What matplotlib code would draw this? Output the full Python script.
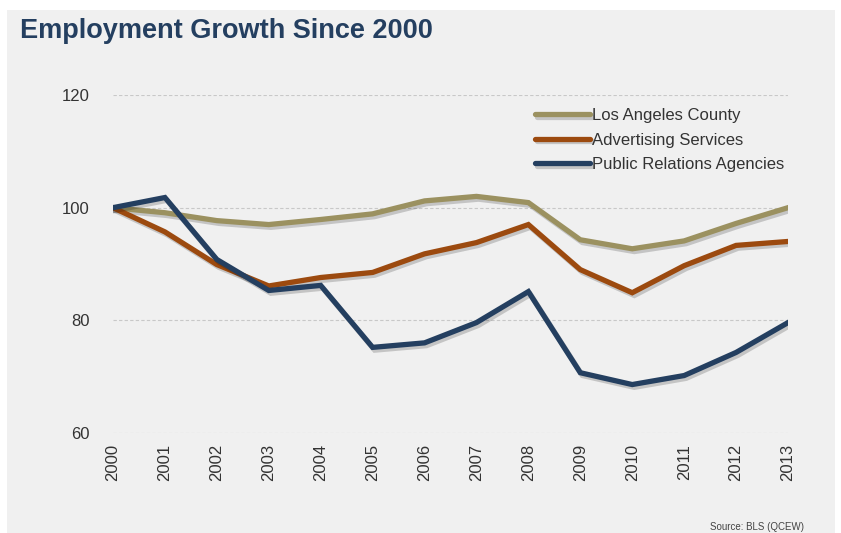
import matplotlib
matplotlib.use("Agg")
import matplotlib.pyplot as plt
import matplotlib.patches as mpatches
import matplotlib.patheffects as pe

years = list(range(2000, 2014))
la_county = [100, 99.1, 97.7, 97.0, 97.9, 98.9, 101.2, 102.0, 100.9, 94.3, 92.7, 94.1, 97.2, 100.0]
advertising = [100, 95.7, 89.9, 86.1, 87.6, 88.5, 91.8, 93.8, 97.0, 89.0, 84.9, 89.7, 93.3, 94.0]
public_rel = [100, 101.8, 90.8, 85.3, 86.2, 75.2, 76.0, 79.6, 85.1, 70.7, 68.6, 70.2, 74.3, 79.6]
names = ["Los Angeles County", "Advertising Services", "Public Relations Agencies"]
colors = ["#9b9160", "#9c4a0f", "#243f60"]

plt.rcParams['font.family'] = ['Liberation Sans', 'DejaVu Sans']

fig = plt.figure(figsize=(8.41, 5.33), dpi=100, facecolor="white")
# grey panel behind everything
bg = mpatches.Rectangle((7 / 841, 0), 828 / 841, 1 - 10 / 533, transform=fig.transFigure,
                        facecolor="#f0f0f0", edgecolor="none", zorder=-10)
fig.patches.append(bg)

ax = fig.add_axes([113 / 841, 1 - 433 / 533, 675 / 841, 338 / 533])
ax.set_facecolor("none")

shadow = [pe.SimpleLineShadow(offset=(1.5, -2), shadow_color="black", alpha=0.18), pe.Normal()]
for vals, name, c in zip([la_county, advertising, public_rel], names, colors):
    ax.plot(years, vals, color=c, lw=3.8, label=name, solid_joinstyle="miter",
            path_effects=shadow)

ax.set_xlim(2000, 2013)
ax.set_ylim(60, 120)
ax.set_yticks([60, 80, 100, 120])
ax.set_xticks(years)
ax.set_xticklabels([str(y) for y in years], rotation=90)
ax.tick_params(axis="both", length=0, labelsize=12, labelcolor="#333333")
ax.tick_params(axis="y", pad=17)
ax.tick_params(axis="x", pad=8)
ax.grid(axis="y", color="#c8c8c8", linestyle=(0, (3, 2)), lw=0.8)
ax.set_axisbelow(True)
for s in ax.spines.values():
    s.set_visible(False)

leg = ax.legend(loc="upper left", bbox_to_anchor=(0.625, 0.962), frameon=False,
                borderpad=0, borderaxespad=0,
                fontsize=12, handlelength=3.3, handletextpad=0.12, labelspacing=0.58,
                labelcolor="#333333")
for h in leg.get_lines():
    h.set_linewidth(3.8)
    h.set_solid_capstyle("round")

fig.text(20 / 841, 1 - 31 / 533, "Employment Growth Since 2000", fontsize=19.5,
         fontweight="bold", color="#243f60", va="center", ha="left")
fig.text(710 / 841, 1 - 527 / 533, "Source: BLS (QCEW)", fontsize=7,
         color="#444444", va="center", ha="left")

fig.savefig("out.png", dpi=100, facecolor=fig.get_facecolor())
